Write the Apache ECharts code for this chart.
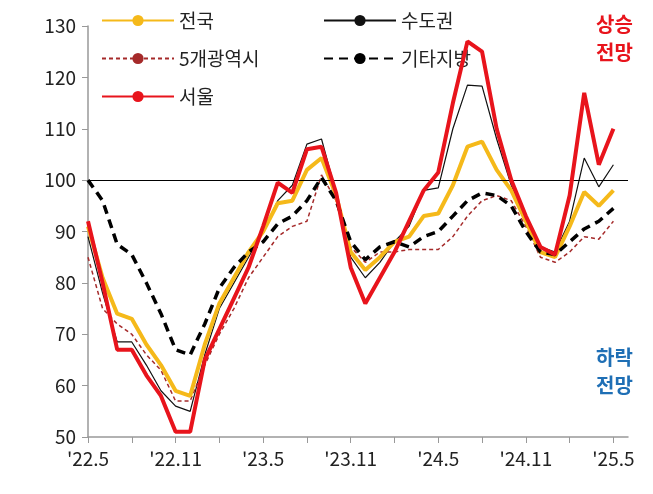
<!DOCTYPE html>
<html><head><meta charset="utf-8">
<script src="https://cdn.jsdelivr.net/npm/echarts@6/dist/echarts.min.js"></script>
<style>html,body{margin:0;padding:0;background:#fff}#c{width:653px;height:494px}</style>
</head><body><div id="c"></div>
<script>
const categories = ["'22.5","'22.6","'22.7","'22.8","'22.9","'22.10","'22.11","'22.12","'23.1","'23.2","'23.3","'23.4","'23.5","'23.6","'23.7","'23.8","'23.9","'23.10","'23.11","'23.12","'24.1","'24.2","'24.3","'24.4","'24.5","'24.6","'24.7","'24.8","'24.9","'24.10","'24.11","'24.12","'25.1","'25.2","'25.3","'25.4","'25.5","'25.6"];
const national = [91,81,74,73,68,64,59,58,68,76,81,86,90,95.5,96,102,104.3,97,86,82.5,85,88,89,93,93.5,99,106.5,107.5,102,98,92,86,85,91,97.7,95,98];
const capital = [89,78,68.5,68.5,64,59,56,55,66,75,80,85,90,96,99,107,108,97.5,85,81,84,88,91,98,98.5,110,118.5,118.3,108,99,93,87,86,92,104.3,98.7,103];
const metro5 = [85,75,72,70,66,63,57,57,64,70,75,81,85,89,91,92,101,96,87,84,86,86,86.5,86.5,86.5,89,93,96,97,96,91,85,84,86,89,88.5,92];
const seoul = [92,80,67,67,62,58,51,51,65,71,77,83,91,99.5,97.5,106,106.5,97.5,83,76,81,86,92,98,101.5,115,127,125,110,100,93,87,85.5,97,117,103,110];
const others = [100,96,87.5,85.5,80,74,67,66,72,79,83,86,88,91.5,93,96,100.5,96,88,84.5,87,88,87,89,90,93,96,97.5,97,95,90,86,85.5,88,90.5,92,94.5];
const yTicks = {min:50,max:130,interval:10};

const font = "Noto Sans CJK KR";
const chart = echarts.init(document.getElementById('c'));
const mk = (name,data,color,width,type,z)=>({name,type:'line',data,symbol:'none',z,
  lineStyle:{color,width,type},itemStyle:{color}});
const legBase = {orient:'vertical',itemWidth:72,itemHeight:14,itemGap:19,
  textStyle:{fontSize:19,color:'#222',fontFamily:font}};
chart.setOption({
  animation:false,
  grid:{left:88,right:25,top:26,bottom:57},
  xAxis:{type:'category',data:categories,boundaryGap:false,
    axisLine:{lineStyle:{color:'#999',width:1.5}},
    axisTick:{interval:2,length:6,lineStyle:{color:'#999'}},
    axisLabel:{interval:5,fontSize:19,color:'#222',fontFamily:font,margin:12,
      formatter:(v,i)=>i===37?'':v}},
  yAxis:{type:'value',min:yTicks.min,max:yTicks.max,interval:yTicks.interval,
    splitLine:{show:false},
    axisLine:{show:true,lineStyle:{color:'#999',width:1.5}},
    axisTick:{show:true,length:6,lineStyle:{color:'#999'}},
    axisLabel:{fontSize:19,color:'#222',fontFamily:font,margin:12}},
  legend:[
    Object.assign({},legBase,{left:96,top:6,data:['전국','5개광역시','서울']}),
    Object.assign({},legBase,{left:318,top:6,data:['수도권','기타지방']})
  ],
  graphic:[
    {type:'text',left:596,top:10,style:{text:'상승\n전망',fill:'#e8141c',fontSize:20,fontWeight:'bold',lineHeight:28,fontFamily:font}},
    {type:'text',left:596,top:343,style:{text:'하락\n전망',fill:'#1f6fb5',fontSize:20,fontWeight:'bold',lineHeight:28,fontFamily:font}}
  ],
  series:[
    Object.assign(mk('전국',national,'#f5b91a',4,'solid',3),{markLine:{silent:true,symbol:'none',label:{show:false},lineStyle:{color:'#000',width:1.2,type:'solid'},data:[{yAxis:100}]}}),
    mk('수도권',capital,'#111',1.2,'solid',2),
    mk('5개광역시',metro5,'#a52a2a',1.5,[4,3],2),
    mk('기타지방',others,'#000',3.5,[9,6],4),
    mk('서울',seoul,'#e8141c',4,'solid',5)
  ]
});
</script></body></html>
